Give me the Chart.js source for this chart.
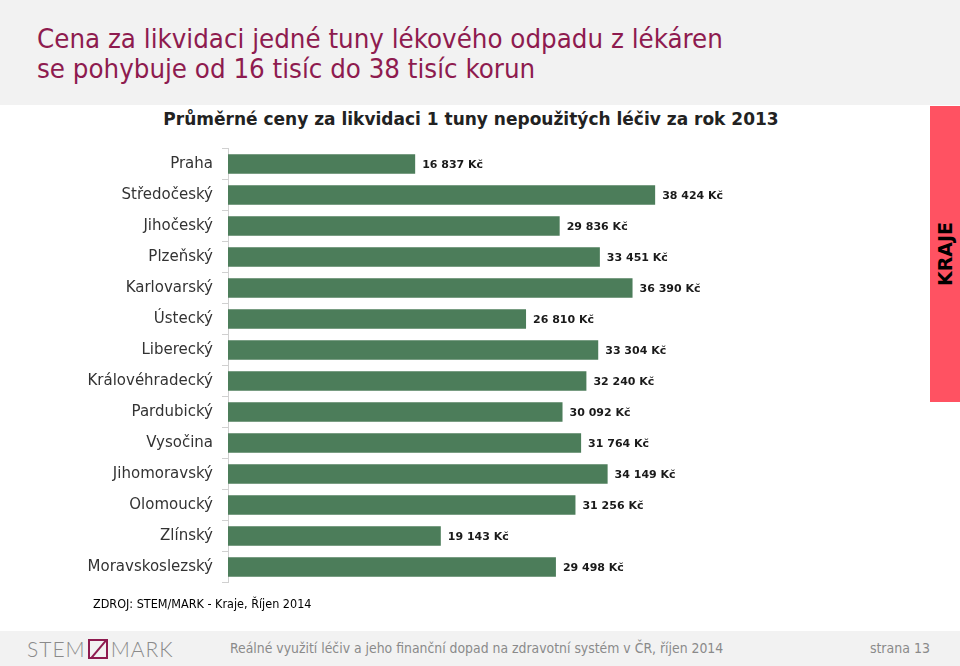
<!DOCTYPE html>
<html>
<head>
<meta charset="utf-8">
<script src="https://cdn.jsdelivr.net/npm/chart.js@4"></script>
<style>
  body { margin: 0; width: 960px; height: 666px; position: relative; overflow: hidden; background: #fff; font-family: "DejaVu Sans", sans-serif; }
  #head { position: absolute; left: 0; top: 0; width: 960px; height: 105px; background: #f2f2f2; }
  #head div { position: absolute; left: 37px; top: 24px; color: #8e1b4f; font-family: "Liberation Sans Narrow", "DejaVu Sans Condensed", sans-serif; font-size: 27.4px; line-height: 30px; }
  #ctitle { position: absolute; left: 0; width: 942px; top: 109px; text-align: center; font-weight: bold; font-size: 17px; color: #222; }
  #kraje { position: absolute; left: 930px; top: 106px; width: 30px; height: 296px; background: #ff5262; }
  #kraje span { position: absolute; left: 50%; top: 50%; transform: translate(-50%, -50%) rotate(-90deg); font-weight: bold; font-size: 19px; color: #000; }
  #zdroj { position: absolute; left: 93px; top: 596px; font-size: 12.5px; font-family: "DejaVu Sans Condensed", sans-serif; color: #000; }
  #foot { position: absolute; left: 0; top: 631px; width: 960px; height: 35px; background: #f2f2f2; color: #8a8a8a; }
  #logo { position: absolute; left: 27px; top: 5px; font-family: "Lato", sans-serif; font-weight: 300; font-size: 21px; letter-spacing: 1px; color: #8a8a8a; }
  #logo .box { display: inline-block; width: 16px; height: 16px; border: 2px solid #8e1b4f; vertical-align: -2px; margin: 0 3px 0 2px; position: relative; overflow: hidden; }
  #logo .box:after { content: ""; position: absolute; left: 7px; top: -3px; width: 2px; height: 24px; background: #8e1b4f; transform: rotate(40deg); }
  #ftext { position: absolute; left: 230px; top: 9px; font-size: 13.85px; font-family: "DejaVu Sans Condensed", sans-serif; }
  #strana { position: absolute; right: 30px; top: 9px; font-size: 14px; font-family: "DejaVu Sans Condensed", sans-serif; }
  #c { position: absolute; left: 0; top: 0; }
</style>
</head>
<body>
<div id="head"><div>Cena za likvidaci jedné tuny lékového odpadu z lékáren<br>se pohybuje od 16 tisíc do 38 tisíc korun</div></div>
<div id="ctitle">Průměrné ceny za likvidaci 1 tuny nepoužitých léčiv za rok 2013</div>
<div id="kraje"><span>KRAJE</span></div>
<canvas id="c" width="960" height="666"></canvas>
<div id="zdroj">ZDROJ: STEM/MARK - Kraje, Říjen 2014</div>
<div id="foot">
  <div id="logo">STEM<span class="box"></span>MARK</div>
  <div id="ftext">Reálné využití léčiv a jeho finanční dopad na zdravotní systém v ČR, říjen 2014</div>
  <div id="strana">strana 13</div>
</div>
<script>
var regions = ['Praha', 'Středočeský', 'Jihočeský', 'Plzeňský', 'Karlovarský', 'Ústecký', 'Liberecký',
  'Královéhradecký', 'Pardubický', 'Vysočina', 'Jihomoravský', 'Olomoucký', 'Zlínský', 'Moravskoslezský'];
var prices = [16837, 38424, 29836, 33451, 36390, 26810, 33304, 32240, 30092, 31764, 34149, 31256, 19143, 29498];

function fmt(v) {
  return String(v).replace(/\B(?=(\d{3})+(?!\d))/g, ' ') + ' Kč';
}

// popisky hodnot za koncem sloupce
var valueLabels = {
  id: 'valueLabels',
  afterDatasetsDraw: function(chart) {
    var ctx = chart.ctx;
    var meta = chart.getDatasetMeta(0);
    ctx.save();
    ctx.font = 'bold 11px "DejaVu Sans"';
    ctx.fillStyle = '#1a1a1a';
    ctx.textBaseline = 'middle';
    meta.data.forEach(function(bar, i) {
      ctx.fillText(fmt(prices[i]), bar.x + 7, bar.y + 1);
    });
    ctx.restore();
  }
};

var ctx = document.getElementById('c').getContext('2d');
var chart = new Chart(ctx, {
  type: 'bar',
  data: {
    labels: regions,
    datasets: [{
      data: prices,
      backgroundColor: '#4c7d5a',
      borderWidth: 0,
      categoryPercentage: 1,
      barPercentage: 0.63
    }]
  },
  options: {
    indexAxis: 'y',
    responsive: false,
    animation: false,
    events: [],
    layout: { padding: { left: 0, right: 65, top: 148.5, bottom: 83.5 } },
    scales: {
      x: { display: false, min: 0, max: 60000 },
      y: {
        afterFit: function(scale) { scale.width = 228; },
        border: { display: true, color: '#d0d0d0', width: 1 },
        grid: { drawOnChartArea: false, drawTicks: true, tickLength: 6, color: '#d0d0d0' },
        ticks: { padding: 9, color: '#333', font: { family: 'DejaVu Sans', size: 15 } }
      }
    },
    plugins: {
      legend: { display: false },
      tooltip: { enabled: false }
    }
  },
  plugins: [valueLabels]
});
</script>
</body>
</html>
